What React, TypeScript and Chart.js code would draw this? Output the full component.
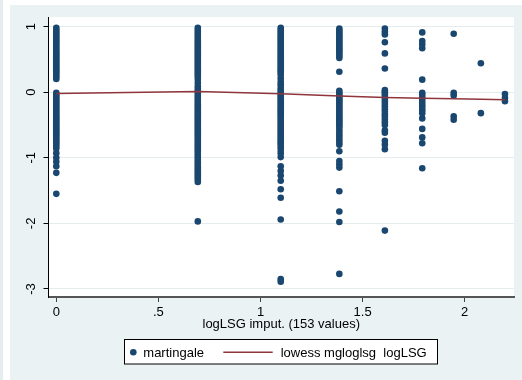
import React, { useEffect, useRef } from 'react';
import { Chart, registerables } from 'chart.js';

Chart.register(...registerables);

// ---- data ----
const logLSG = [0, 0.693, 1.099, 1.386, 1.609, 1.792, 1.946, 2.079, 2.197];

const mart0 = [0.98, 0.95, 0.92, 0.89, 0.86, 0.83, 0.8, 0.77, 0.74, 0.71, 0.68, 0.65, 0.62, 0.59, 0.56, 0.53, 0.5, 0.47, 0.44, 0.41, 0.38, 0.35, 0.32, 0.29, 0.26, 0.23, 0.2,
  -0.01, -0.04, -0.07, -0.1, -0.13, -0.16, -0.19, -0.22, -0.25, -0.28, -0.31, -0.34, -0.37, -0.4, -0.43, -0.46, -0.49, -0.52, -0.55, -0.58, -0.61, -0.64, -0.67, -0.7, -0.73, -0.76, -0.79, -0.82, -0.86,
  -0.93, -1.0, -1.06, -1.13, -1.23, -1.55];
const mart1 = [0.98, 0.95, 0.92, 0.89, 0.86, 0.83, 0.8, 0.77, 0.74, 0.71, 0.68, 0.65, 0.62, 0.59, 0.56, 0.53, 0.5, 0.47, 0.44, 0.41, 0.38, 0.35, 0.32, 0.29, 0.26, 0.23, 0.19, 0.14, 0.09, 0.05, 0.02,
  -0.01, -0.04, -0.07, -0.1, -0.13, -0.16, -0.19, -0.22, -0.25, -0.28, -0.31, -0.34, -0.37, -0.4, -0.43, -0.46, -0.49, -0.52, -0.55, -0.58, -0.61, -0.64, -0.67, -0.7, -0.73, -0.76, -0.79, -0.82, -0.85, -0.88, -0.91, -0.94, -0.97, -1.0, -1.03, -1.06, -1.09, -1.12, -1.15, -1.18, -1.21, -1.24, -1.27, -1.3, -1.33, -1.37,
  -1.97];
const mart2 = [0.98, 0.95, 0.92, 0.89, 0.86, 0.83, 0.8, 0.77, 0.74, 0.71, 0.68, 0.65, 0.62, 0.59, 0.56, 0.53, 0.5, 0.47, 0.44, 0.41, 0.38, 0.35, 0.32, 0.29, 0.26, 0.21, 0.16, 0.12, 0.08, 0.04, 0.01,
  -0.02, -0.05, -0.08, -0.11, -0.14, -0.17, -0.2, -0.23, -0.26, -0.29, -0.32, -0.35, -0.38, -0.41, -0.44, -0.47, -0.5, -0.53, -0.56, -0.59, -0.62, -0.65, -0.68, -0.71, -0.74, -0.77, -0.8, -0.84, -0.88,
  -0.93, -0.99, -1.13, -1.2, -1.27, -1.35, -1.48, -1.61, -1.94, -2.85, -2.89];
const mart3 = [0.97, 0.94, 0.91, 0.88, 0.85, 0.82, 0.79, 0.76, 0.73, 0.7, 0.67, 0.64, 0.61, 0.58, 0.55, 0.52, 0.31,
  0.02, -0.01, -0.04, -0.07, -0.1, -0.13, -0.16, -0.19, -0.22, -0.25, -0.28, -0.31, -0.34, -0.37, -0.4, -0.43, -0.46, -0.49, -0.52, -0.56, -0.6, -0.64, -0.68, -0.72, -0.76, -0.8,
  -0.9, -1.05, -1.1, -1.15, -1.51, -1.82, -1.98, -2.77];
const mart4 = [0.97, 0.92, 0.88, 0.76, 0.59, 0.36, 0.03, 0.0, -0.03, -0.06, -0.1, -0.14, -0.18, -0.22, -0.26, -0.3, -0.34, -0.38, -0.42, -0.46, -0.5, -0.58, -0.62, -0.74, -0.8, -0.87, -2.11];
const mart5 = [0.91, 0.78, 0.73, 0.67, 0.19, -0.01, -0.04, -0.08, -0.12, -0.16, -0.2, -0.24, -0.28, -0.32, -0.4, -0.56, -0.69, -0.78, -1.16];
const mart6 = [0.89, -0.01, -0.05, -0.37, -0.42];
const mart7 = [0.44, -0.32];
const mart8 = [-0.03, -0.09, -0.14];
const martingaleGroups = [mart0, mart1, mart2, mart3, mart4, mart5, mart6, mart7, mart8];

const lowessY = [-0.02, 0.01, -0.025, -0.06, -0.08, -0.095, -0.1, -0.11, -0.115];

const xTicks = [0, 0.5, 1, 1.5, 2];
const xTickLabels = ['0', '.5', '1', '1.5', '2'];
const yTicks = [-3, -2, -1, 0, 1];
const yTickLabels = ['-3', '-2', '-1', '0', '1'];
const xTitle = 'logLSG imput. (153 values)';
const seriesNames = ['martingale', 'lowess mgloglsg  logLSG'];

const FONT = '"Liberation Sans", Arial, sans-serif';
const NAVY = '#1A476F';
const MAROON = '#90353B';
const REGION = '#EAF2F3';

export default function App() {
  const ref = useRef<HTMLCanvasElement | null>(null);

  useEffect(() => {
    document.body.style.margin = '0';
    const canvas = ref.current;
    if (!canvas) return;

    const points = logLSG.flatMap((x, i) => martingaleGroups[i].map((y) => ({ x, y })));
    const lowessPts = logLSG.map((x, i) => ({ x, y: lowessY[i] }));

    const bgPlugin = {
      id: 'stataBg',
      beforeDraw(chart: any) {
        const { ctx, chartArea } = chart;
        ctx.save();
        ctx.fillStyle = '#ffffff';
        ctx.fillRect(0, 0, 522, 380);
        ctx.fillStyle = '#E6EDEF';
        ctx.fillRect(0, 0, 3, 380);
        ctx.fillStyle = REGION;
        ctx.fillRect(10, 5, 512, 375);
        ctx.fillStyle = '#ffffff';
        ctx.fillRect(chartArea.left, chartArea.top, chartArea.right - chartArea.left, chartArea.bottom - chartArea.top);
        ctx.restore();
      },
      afterDraw(chart: any) {
        const { ctx } = chart;
        const ys = chart.scales.y;
        ctx.save();
        // rotated y tick labels
        ctx.fillStyle = '#000';
        ctx.font = '13px ' + FONT;
        ctx.textAlign = 'center';
        ctx.textBaseline = 'middle';
        yTicks.forEach((v, i) => {
          const py = ys.getPixelForValue(v);
          ctx.save();
          ctx.translate(31.7, py);
          ctx.rotate(-Math.PI / 2);
          ctx.fillText(yTickLabels[i], 0, 0);
          ctx.restore();
        });
        // legend
        ctx.fillStyle = '#fff';
        ctx.fillRect(124.5, 339.5, 313, 24.5);
        ctx.strokeStyle = '#000';
        ctx.lineWidth = 1;
        ctx.strokeRect(124.5, 339.5, 313, 24.5);
        ctx.fillStyle = NAVY;
        ctx.beginPath();
        ctx.arc(133.3, 352.3, 3.3, 0, Math.PI * 2);
        ctx.fill();
        ctx.strokeStyle = MAROON;
        ctx.lineWidth = 1.5;
        ctx.beginPath();
        ctx.moveTo(223.3, 352.3);
        ctx.lineTo(272.7, 352.3);
        ctx.stroke();
        ctx.fillStyle = '#000';
        ctx.textAlign = 'left';
        ctx.textBaseline = 'alphabetic';
        ctx.fillText(seriesNames[0], 143.3, 356.6);
        ctx.fillText(seriesNames[1], 280.7, 356.6);
        ctx.restore();
      },
    };

    const chart = new Chart(canvas, {
      type: 'scatter',
      data: {
        datasets: [
          {
            label: seriesNames[1],
            data: lowessPts,
            showLine: true,
            borderColor: MAROON,
            borderWidth: 1.5,
            pointRadius: 0,
            fill: false,
            order: 0,
          } as any,
          {
            label: seriesNames[0],
            data: points,
            backgroundColor: NAVY,
            borderWidth: 0,
            pointRadius: 3.3,
            order: 1,
          },
        ],
      },
      plugins: [bgPlugin],
      options: {
        responsive: false,
        animation: false,
        devicePixelRatio: 1,
        layout: { padding: { left: 10, top: 17, right: 8, bottom: 0 } },
        plugins: { legend: { display: false }, tooltip: { enabled: false } },
        scales: {
          x: {
            type: 'linear',
            min: -0.0382,
            max: 2.2413,
            afterFit: (s: any) => { s.height = 83; },
            afterBuildTicks: (s: any) => { s.ticks = xTicks.map((v) => ({ value: v })); },
            ticks: {
              color: '#000',
              font: { family: FONT, size: 13 },
              padding: 3,
              maxRotation: 0,
              minRotation: 0,
              callback: (_v: any, i: number) => xTickLabels[i],
            },
            grid: { drawOnChartArea: false, drawTicks: true, tickLength: 5, tickColor: '#444', tickWidth: 1 },
            border: { display: true, color: '#555', width: 2 },
            title: {
              display: true,
              text: xTitle,
              color: '#000',
              font: { family: FONT, size: 13 },
              padding: { top: 0, bottom: 47.7 },
            },
          },
          y: {
            type: 'linear',
            min: -3.122,
            max: 1.145,
            afterFit: (s: any) => { s.width = 38.5; },
            afterBuildTicks: (s: any) => { s.ticks = yTicks.map((v) => ({ value: v })); },
            ticks: { display: false },
            grid: { color: '#E4ECEE', lineWidth: 1, drawTicks: true, tickLength: 5, tickColor: '#000', tickWidth: 1 },
            border: { display: true, color: '#000', width: 1 },
          },
        },
      },
    });
    return () => chart.destroy();
  }, []);

  return <canvas ref={ref} width={522} height={380} style={{ display: 'block' }} />;
}
